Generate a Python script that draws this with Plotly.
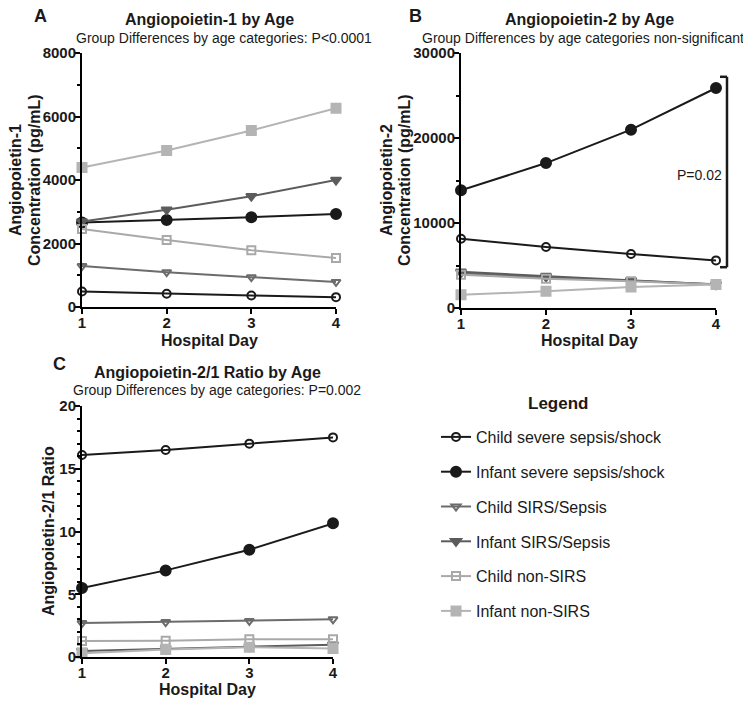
import plotly.graph_objects as go

days = [1, 2, 3, 4]
series_names = ["Child severe sepsis/shock", "Infant severe sepsis/shock",
                "Child SIRS/Sepsis", "Infant SIRS/Sepsis",
                "Child non-SIRS", "Infant non-SIRS"]

# Panel A: Angiopoietin-1 (pg/mL)
ang1_child_severe = [490, 420, 360, 310]
ang1_infant_severe = [2660, 2740, 2830, 2930]
ang1_child_sirs = [1290, 1095, 940, 790]
ang1_infant_sirs = [2690, 3065, 3490, 4000]
ang1_child_nonsirs = [2460, 2110, 1790, 1540]
ang1_infant_nonsirs = [4390, 4930, 5560, 6260]

# Panel B: Angiopoietin-2 (pg/mL)
ang2_child_severe = [8150, 7180, 6350, 5600]
ang2_infant_severe = [13850, 17050, 20980, 25880]
ang2_child_sirs = [4100, 3600, 3200, 2800]
ang2_infant_sirs = [4250, 3750, 3250, 2750]
ang2_child_nonsirs = [3900, 3450, 3150, 2750]
ang2_infant_nonsirs = [1550, 1960, 2470, 2750]

# Panel C: Angiopoietin-2/1 ratio
ratio_child_severe = [16.1, 16.5, 17.0, 17.5]
ratio_infant_severe = [5.5, 6.9, 8.55, 10.65]
ratio_child_sirs = [2.7, 2.78, 2.87, 3.0]
ratio_infant_sirs = [0.48, 0.68, 0.82, 0.98]
ratio_child_nonsirs = [1.28, 1.3, 1.42, 1.42]
ratio_infant_nonsirs = [0.3, 0.6, 0.78, 0.68]

panel_a = [ang1_child_severe, ang1_infant_severe, ang1_child_sirs,
           ang1_infant_sirs, ang1_child_nonsirs, ang1_infant_nonsirs]
panel_b = [ang2_child_severe, ang2_infant_severe, ang2_child_sirs,
           ang2_infant_sirs, ang2_child_nonsirs, ang2_infant_nonsirs]
panel_c = [ratio_child_severe, ratio_infant_severe, ratio_child_sirs,
           ratio_infant_sirs, ratio_child_nonsirs, ratio_infant_nonsirs]

colors = ["#1a1a1a", "#1a1a1a", "#6c6c6c", "#5c5c5c", "#a9a9a9", "#b4b4b4"]
symbols = ["circle-open", "circle", "triangle-down-open", "triangle-down",
           "square-open", "square"]
msizes = [8, 10, 8, 9, 8, 9]

FONT = "Liberation Sans, Arial, sans-serif"
OFF = 8               # page body margin in the browser
W, H = 751 - OFF, 703 - OFF

fig = go.Figure()

def px_x(p):
    return (p - OFF) / W

def px_y(p):
    return 1 - (p - OFF) / H

for data, xa, ya, show in [(panel_a, "x", "y", False),
                           (panel_b, "x2", "y2", False),
                           (panel_c, "x3", "y3", True)]:
    for i, vals in enumerate(data):
        fig.add_trace(go.Scatter(
            x=days, y=vals, mode="lines+markers", name=series_names[i],
            xaxis=xa, yaxis=ya, cliponaxis=False,
            line=dict(color=colors[i], width=2),
            marker=dict(symbol=symbols[i], size=msizes[i], color=colors[i],
                        line=dict(color=colors[i], width=2)),
            showlegend=show, legendgroup="g%d" % i,
        ))

axis_common = dict(showline=True, linecolor="black", linewidth=2,
                   showgrid=False, zeroline=False, ticks="outside",
                   ticklen=5, tickwidth=2, tickcolor="black", automargin=False,
                   tickformat="d", ticklabelstandoff=-4,
                   tickfont=dict(family=FONT, size=15, color="#1a1a1a", weight="bold"))

xdoms = {"A": [px_x(82), px_x(336)], "B": [px_x(461), px_x(716)], "C": [px_x(82), px_x(333)]}
ydoms = {"A": [px_y(307), px_y(53)], "B": [px_y(308), px_y(53)], "C": [px_y(657), px_y(406)]}

fig.update_layout(
    width=W, height=H,
    margin=dict(l=0, r=0, t=0, b=0, autoexpand=False),
    paper_bgcolor="white", plot_bgcolor="white",
    font=dict(family=FONT, color="#1a1a1a"),
    xaxis=dict(domain=xdoms["A"], anchor="y", range=[1, 4], tickvals=days, **axis_common),
    yaxis=dict(domain=ydoms["A"], anchor="x", range=[0, 8000], dtick=2000,
               minor=dict(dtick=1000, ticks="outside", ticklen=3, tickwidth=1.5, tickcolor="black"),
               **axis_common),
    xaxis2=dict(domain=xdoms["B"], anchor="y2", range=[1, 4], tickvals=days, **axis_common),
    yaxis2=dict(domain=ydoms["B"], anchor="x2", range=[0, 30000], dtick=10000,
                minor=dict(dtick=5000, ticks="outside", ticklen=3, tickwidth=1.5, tickcolor="black"),
                **axis_common),
    xaxis3=dict(domain=xdoms["C"], anchor="y3", range=[1, 4], tickvals=days, **axis_common),
    yaxis3=dict(domain=ydoms["C"], anchor="x3", range=[0, 20], dtick=5,
                minor=dict(dtick=1, ticks="outside", ticklen=3, tickwidth=1.5, tickcolor="black"),
                **axis_common),
    legend=dict(
        x=px_x(436), y=px_y(420), xanchor="left", yanchor="top",
        font=dict(family=FONT, size=16, color="#1a1a1a"),
        tracegroupgap=11, itemwidth=30, bgcolor="rgba(0,0,0,0)",
    ),
)

ann = []
def text(x, y, s, size, bold=False, angle=0, xa="center"):
    ann.append(dict(x=px_x(x), y=px_y(y), xref="paper", yref="paper",
                    text=("<b>%s</b>" % s) if bold else s, showarrow=False,
                    textangle=angle, xanchor=xa, yanchor="middle",
                    font=dict(family=FONT, size=size, color="#1a1a1a")))

# panel letters
text(40, 16, "A", 18, True)
text(415, 16, "B", 18, True)
text(60, 364, "C", 18, True)
# titles
text(209, 19, "Angiopoietin-1 by Age", 16, True)
text(224, 38, "Group Differences by age categories: P&lt;0.0001", 14)
text(589, 19, "Angiopoietin-2 by Age", 16, True)
text(583, 38, "Group Differences by age categories non-significant", 14)
text(207, 372, "Angiopoietin-2/1 Ratio by Age", 16, True)
text(217, 390, "Group Differences by age categories: P=0.002", 14)
# x axis titles
text(209, 340, "Hospital Day", 16, True)
text(589, 340, "Hospital Day", 16, True)
text(207, 689, "Hospital Day", 16, True)
# y axis titles
text(15, 180, "Angiopoietin-1", 16, True, -90)
text(34, 180, "Concentration (pg/mL)", 16, True, -90)
text(386, 180, "Angiopoietin-2", 16, True, -90)
text(404, 180, "Concentration (pg/mL)", 16, True, -90)
text(48, 531, "Angiopoietin-2/1 Ratio", 16, True, -90)
# legend heading
text(558, 403, "Legend", 17, True)

ann.append(dict(x=(699 - 461) / (716 - 461), y=15600, xref="x2 domain", yref="y2",
                text="P=0.02", showarrow=False, xanchor="center", yanchor="middle",
                font=dict(family=FONT, size=14, color="#1a1a1a")))
fig.update_layout(annotations=ann)

# bracket in panel B
bx = (727 - 461) / (716 - 461)
bx0 = (720 - 461) / (716 - 461)
for (x0, y0, x1, y1) in [(bx, 27200, bx, 4800), (bx0, 27200, bx, 27200), (bx0, 4800, bx, 4800)]:
    fig.add_shape(type="line", xref="x2 domain", yref="y2", x0=x0, y0=y0, x1=x1, y1=y1,
                  line=dict(color="#1a1a1a", width=2.5))

fig.write_html("out.html")
